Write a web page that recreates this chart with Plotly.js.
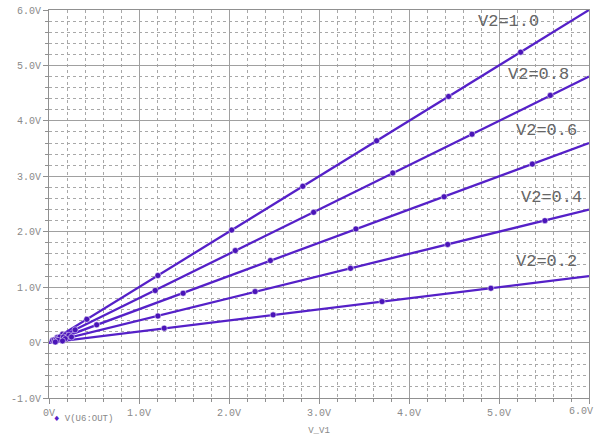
<!DOCTYPE html>
<html><head><meta charset="utf-8">
<script src="https://cdn.plot.ly/plotly-3.0.1.min.js"></script>
<style>html,body{margin:0;padding:0;background:#fff}#chart{width:596px;height:437px}</style>
</head><body><div id="chart"></div>
<script>
// Series names and parameter values
const seriesNames = ["V2=1.0", "V2=0.8", "V2=0.6", "V2=0.4", "V2=0.2"];
// Line end points (V_V1 sweep from 0 to 6 V)
const lineX = [0, 6];
const lineY10 = [0, 6.0];
const lineY08 = [0, 4.8];
const lineY06 = [0, 3.6];
const lineY04 = [0, 2.4];
const lineY02 = [0, 1.2];
// Marker points
const mX10 = [0.04, 0.09, 0.15, 0.42, 1.21, 2.03, 2.82, 3.64, 4.44, 5.24];
const mY10 = [0.04, 0.09, 0.15, 0.42, 1.21, 2.03, 2.82, 3.64, 4.44, 5.24];
const mX08 = [0.06, 0.12, 0.18, 0.29, 1.18, 2.07, 2.94, 3.82, 4.70, 5.57];
const mY08 = [0.05, 0.10, 0.14, 0.23, 0.94, 1.66, 2.35, 3.06, 3.76, 4.46];
const mX06 = [0.08, 0.16, 0.22, 0.53, 1.49, 2.46, 3.41, 4.39, 5.37];
const mY06 = [0.05, 0.10, 0.13, 0.32, 0.89, 1.48, 2.05, 2.63, 3.22];
const mX04 = [0.10, 0.18, 0.25, 1.21, 2.29, 3.35, 4.43, 5.51];
const mY04 = [0.04, 0.07, 0.10, 0.48, 0.92, 1.34, 1.77, 2.20];
const mX02 = [0.07, 0.15, 1.28, 2.49, 3.70, 4.91];
const mY02 = [0.01, 0.03, 0.26, 0.50, 0.74, 0.98];
// Label anchor positions (data coords)
const labelX = [5.1, 5.44, 5.53, 5.58, 5.53];
const labelY = [5.79, 4.84, 3.83, 2.62, 1.46];
// Axis ticks
const xTickVals = [0, 1, 2, 3, 4, 5, 6];
const xTickText = ["0V", "1.0V", "2.0V", "3.0V", "4.0V", "5.0V", ""];
const xLastTick = "6.0V";
const yTickVals = [-1, 0, 1, 2, 3, 4, 5, 6];
const yTickText = ["-1.0V", "0V", "1.0V", "2.0V", "3.0V", "4.0V", "5.0V", "6.0V"];

const COL = "#5520c8";
const lineYs = [lineY10, lineY08, lineY06, lineY04, lineY02];
const mXs = [mX10, mX08, mX06, mX04, mX02];
const mYs = [mY10, mY08, mY06, mY04, mY02];

const traces = [];
lineYs.forEach((ly, i) => {
  traces.push({x: lineX, y: ly, mode: "lines", line: {color: COL, width: 2.3}, showlegend: false, hoverinfo: "skip", name: seriesNames[i]});
});
mXs.forEach((mx, i) => {
  traces.push({x: mx, y: mYs[i], mode: "markers", marker: {color: "#4a14b8", size: 6, symbol: "circle", line: {color: "#fff", width: 0.5}}, showlegend: false, name: seriesNames[i]});
});

const MONO = "Liberation Mono, Courier New, monospace";
const tickFont = {family: MONO, size: 10, color: "#8a8a8a"};

const axisBase = {
  showline: true, mirror: true, linecolor: "#909090", linewidth: 1,
  showgrid: true, gridcolor: "#a0a0a0", gridwidth: 1,
  zeroline: false, ticks: "outside", ticklen: 5, tickcolor: "#909090",
  tickfont: tickFont,
  minor: {dtick: 0.2, showgrid: true, gridcolor: "#a8a8a8", griddash: "3px,3px", gridwidth: 1, ticks: "outside", ticklen: 3, tickcolor: "#909090"}
};

const layout = {
  width: 596, height: 437,
  margin: {l: 49, r: 7, t: 10, b: 39},
  paper_bgcolor: "#fff", plot_bgcolor: "#fff",
  showlegend: false,
  xaxis: Object.assign({}, axisBase, {range: [0, 6], tickvals: xTickVals, ticktext: xTickText,
    title: {text: "V_V1", font: {family: MONO, size: 9, color: "#888"}, standoff: 8}}),
  yaxis: Object.assign({}, axisBase, {range: [-1, 6], tickvals: yTickVals, ticktext: yTickText}),
  annotations: [
    ...seriesNames.map((s, i) => ({
      x: labelX[i], y: labelY[i], xref: "x", yref: "y", text: s, showarrow: false,
      font: {family: MONO, size: 17, color: "#666"}, xanchor: "center", yanchor: "middle"
    })),
    {x: 0.005, y: -0.053, xref: "paper", yref: "paper", text: '<span style="color:' + COL + '">\u2666</span> V(U6:OUT)',
     showarrow: false, font: {family: MONO, size: 9, color: "#888"}, xanchor: "left", yanchor: "middle"},
    {x: 1, y: 0, xref: "paper", yref: "paper", text: xLastTick, showarrow: false,
     font: tickFont, xanchor: "right", yanchor: "top", yshift: -6, xshift: 6}
  ]
};

Plotly.newPlot("chart", traces, layout, {displayModeBar: false, staticPlot: true});
</script></body></html>
